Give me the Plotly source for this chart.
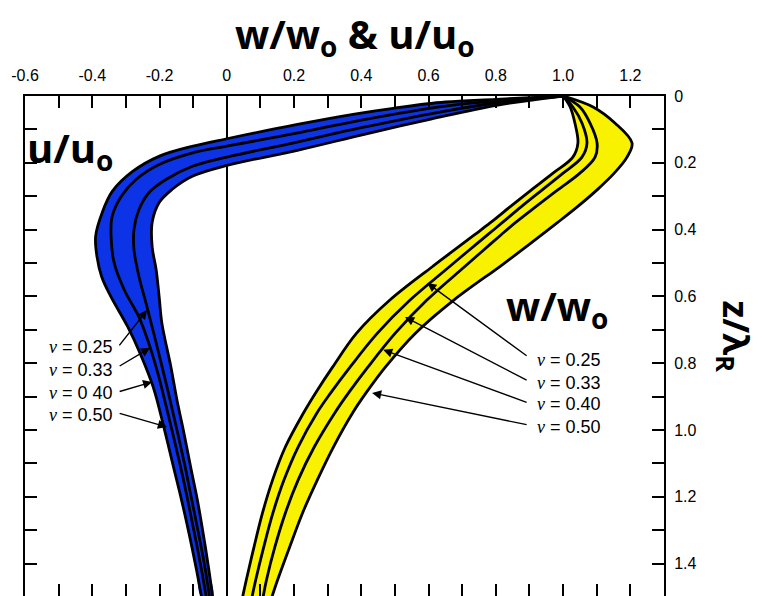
import numpy as np
import plotly.graph_objects as go

# ---------------- data ----------------
# vertical component w/wo : common depth grid z/lambda_R
w_z = [0, 0.033, 0.081, 0.141, 0.183, 0.231, 0.281, 0.332, 0.380, 0.416, 0.467, 0.512,
       0.611, 0.710, 0.811, 0.889, 0.949, 1.051, 1.150, 1.249, 1.350, 1.449, 1.5]
w_nu025 = [1.0, 1.021, 1.035, 1.044, 1.029, 0.970, 0.906, 0.842, 0.783, 0.736, 0.669, 0.610,
           0.485, 0.386, 0.315, 0.264, 0.228, 0.174, 0.136, 0.106, 0.081, 0.058, 0.047]
w_nu033 = [1.0, 1.029, 1.056, 1.071, 1.056, 1.000, 0.938, 0.875, 0.818, 0.775, 0.714, 0.661,
           0.545, 0.448, 0.367, 0.309, 0.268, 0.212, 0.170, 0.137, 0.110, 0.086, 0.075]
w_nu040 = [1.0, 1.050, 1.080, 1.101, 1.095, 1.050, 0.984, 0.918, 0.857, 0.815, 0.757, 0.706,
           0.595, 0.501, 0.420, 0.362, 0.321, 0.260, 0.212, 0.174, 0.143, 0.118, 0.108]
w_nu050 = [1.0, 1.089, 1.154, 1.205, 1.190, 1.152, 1.101, 1.042, 0.982, 0.936, 0.870, 0.810,
           0.675, 0.561, 0.472, 0.414, 0.374, 0.317, 0.269, 0.225, 0.187, 0.151, 0.134]

# horizontal component u/uo : each curve as (x, z) pairs
u_nu050_x = [1.0, 0.80, 0.65, 0.50, 0.38, 0.21, 0.0, -0.10, -0.20, -0.28, -0.34, -0.37, -0.39,
             -0.386, -0.372, -0.345, -0.295, -0.258, -0.219, -0.187, -0.158, -0.134, -0.112, -0.091, -0.075]
u_nu050_z = [0.0, 0.010, 0.018, 0.036, 0.054, 0.085, 0.128, 0.150, 0.180, 0.226, 0.285, 0.348, 0.420,
             0.481, 0.541, 0.600, 0.690, 0.770, 0.871, 0.992, 1.113, 1.212, 1.311, 1.414, 1.5]
u_nu040_x = [1.0, 0.80, 0.65, 0.40, 0.20, 0.0, -0.104, -0.201, -0.270, -0.314, -0.341, -0.344,
             -0.335, -0.305, -0.261, -0.232, -0.205, -0.180, -0.156, -0.133, -0.112, -0.092, -0.073, -0.061]
u_nu040_z = [0.0, 0.015, 0.030, 0.072, 0.113, 0.150, 0.171, 0.205, 0.250, 0.301, 0.361, 0.421,
             0.499, 0.580, 0.662, 0.740, 0.830, 0.930, 1.030, 1.130, 1.230, 1.330, 1.430, 1.5]
u_nu033_x = [1.0, 0.80, 0.65, 0.40, 0.20, 0.0, -0.104, -0.181, -0.231, -0.261, -0.276, -0.276,
             -0.261, -0.237, -0.195, -0.171, -0.148, -0.126, -0.106, -0.086, -0.067, -0.051]
u_nu033_z = [0.0, 0.021, 0.045, 0.095, 0.140, 0.183, 0.211, 0.250, 0.289, 0.340, 0.400, 0.460,
             0.541, 0.632, 0.80, 0.90, 1.0, 1.1, 1.2, 1.3, 1.4, 1.5]
u_nu025_x = [1.0, 0.806, 0.607, 0.412, 0.213, 0.0, -0.104, -0.163, -0.201, -0.222, -0.222, -0.210,
             -0.201, -0.193, -0.166, -0.148, -0.127, -0.107, -0.087, -0.070, -0.054, -0.042]
u_nu025_z = [0.0, 0.027, 0.069, 0.114, 0.162, 0.208, 0.241, 0.280, 0.319, 0.379, 0.451, 0.520,
             0.602, 0.680, 0.812, 0.911, 1.011, 1.113, 1.212, 1.311, 1.414, 1.5]

# labels and arrow targets
nu_labels_u = ["ν = 0.25", "ν = 0.33", "ν = 0 40", "ν = 0.50"]
nu_labels_w = ["ν = 0.25", "ν = 0.33", "ν = 0.40", "ν = 0.50"]
u_tip_x = [-0.237, -0.228, -0.222, -0.178]
u_tip_z = [0.641, 0.754, 0.856, 0.991]
w_tip_x = [0.596, 0.530, 0.465, 0.432]
w_tip_z = [0.560, 0.662, 0.760, 0.889]

x_tickvals = [-0.6, -0.5, -0.4, -0.3, -0.2, -0.1, 0, 0.1, 0.2, 0.3, 0.4, 0.5, 0.6, 0.7, 0.8, 0.9, 1.0, 1.1, 1.2, 1.3]
x_ticktext = ["-0.6", "", "-0.4", "", "-0.2", "", "0", "", "0.2", "", "0.4", "", "0.6", "", "0.8", "", "1.0", "", "1.2", ""]
y_tickvals = [0, 0.1, 0.2, 0.3, 0.4, 0.5, 0.6, 0.7, 0.8, 0.9, 1.0, 1.1, 1.2, 1.3, 1.4]
y_ticktext = ["0", "", "0.2", "", "0.4", "", "0.6", "", "0.8", "", "1.0", "", "1.2", "", "1.4"]

# ---------------- figure ----------------
YELLOW = "#f8f200"
BLUE = "#0d33e6"
XR = [-0.6, 1.3]
YR = [1.497, 0]
LW = 2.8

fig = go.Figure()

# yellow band (between nu=0.25 and nu=0.50)
fig.add_trace(go.Scatter(
    x=list(w_nu025) + list(w_nu050[::-1]), y=list(w_z) + list(w_z[::-1]),
    mode="lines", fill="toself", fillcolor=YELLOW, line=dict(width=0, shape="spline"),
    hoverinfo="skip", showlegend=False))
# blue band
fig.add_trace(go.Scatter(
    x=list(u_nu050_x) + list(u_nu025_x[::-1]), y=list(u_nu050_z) + list(u_nu025_z[::-1]),
    mode="lines", fill="toself", fillcolor=BLUE, line=dict(width=0, shape="spline"),
    hoverinfo="skip", showlegend=False))

for name, xs in [("0.25", w_nu025), ("0.33", w_nu033), ("0.40", w_nu040), ("0.50", w_nu050)]:
    fig.add_trace(go.Scatter(x=xs, y=w_z, mode="lines", name="w/wo ν=" + name,
                             line=dict(color="black", width=LW, shape="spline"), showlegend=False))
for name, xs, zs in [("0.25", u_nu025_x, u_nu025_z), ("0.33", u_nu033_x, u_nu033_z),
                     ("0.40", u_nu040_x, u_nu040_z), ("0.50", u_nu050_x, u_nu050_z)]:
    fig.add_trace(go.Scatter(x=xs, y=zs, mode="lines", name="u/uo ν=" + name,
                             line=dict(color="black", width=LW, shape="spline"), showlegend=False))

# invisible trace to create the mirrored axes (left / bottom ticks)
fig.add_trace(go.Scatter(x=[None], y=[None], xaxis="x2", yaxis="y2", showlegend=False, hoverinfo="skip"))

tickfont = dict(family="Liberation Sans, Arial, sans-serif", size=16, color="black")
fig.update_layout(
    width=762, height=596, autosize=False,
    margin=dict(l=25, r=98, t=96, b=0),
    paper_bgcolor="white", plot_bgcolor="white", showlegend=False,
    xaxis=dict(range=XR, side="top", showline=True, linecolor="black", linewidth=2,
               ticks="inside", ticklen=12, tickwidth=1.5, tickcolor="black",
               tickvals=x_tickvals, ticktext=x_ticktext, tickfont=tickfont, ticklabelstandoff=7,
               showgrid=False, zeroline=True, zerolinecolor="black", zerolinewidth=1.5,
               automargin=False),
    yaxis=dict(range=YR, side="right", showline=True, linecolor="black", linewidth=2,
               ticks="inside", ticklen=12, tickwidth=1.5, tickcolor="black",
               tickvals=y_tickvals, ticktext=y_ticktext, tickfont=tickfont, ticklabelstandoff=5,
               showgrid=False, zeroline=False, automargin=False),
    xaxis2=dict(range=XR, overlaying="x", side="bottom", showline=False,
                ticks="inside", ticklen=12, tickwidth=1.5, tickcolor="black",
                tickvals=x_tickvals, showticklabels=False, showgrid=False, zeroline=False,
                automargin=False),
    yaxis2=dict(range=YR, overlaying="y", side="left", showline=True, linecolor="black", linewidth=2,
                ticks="inside", ticklen=12, tickwidth=1.5, tickcolor="black",
                tickvals=y_tickvals, showticklabels=False, showgrid=False, zeroline=False,
                automargin=False),
)

nu_font = dict(family="Liberation Sans, Arial, sans-serif", size=18, color="black")
def nu_text(s):
    return '<span style="font-family:Liberation Serif"><i>ν</i></span>' + s[1:]

# left (u) labels and arrows
u_text_z = [0.751, 0.820, 0.889, 0.955]
u_tail_z = [0.751, 0.811, 0.886, 0.949]
for lab, tx, tz, tlz, txz in zip(nu_labels_u, u_tip_x, u_tip_z, u_tail_z, u_text_z):
    fig.add_annotation(x=-0.332, y=txz, xref="x", yref="y", text=nu_text(lab), showarrow=False,
                       xanchor="right", yanchor="middle", font=nu_font)
    fig.add_annotation(x=tx, y=tz, ax=-0.323, ay=tlz, xref="x", yref="y", axref="x", ayref="y",
                       text="", showarrow=True, arrowhead=2, arrowsize=1.3, arrowwidth=1.4,
                       arrowcolor="black", standoff=0)

# right (w) labels and arrows
w_text_z = [0.790, 0.859, 0.922, 0.991]
w_tail_z = [0.781, 0.853, 0.919, 0.985]
for lab, tx, tz, tlz, txz in zip(nu_labels_w, w_tip_x, w_tip_z, w_tail_z, w_text_z):
    fig.add_annotation(x=0.916, y=txz, xref="x", yref="y", text=nu_text(lab), showarrow=False,
                       xanchor="left", yanchor="middle", font=nu_font)
    fig.add_annotation(x=tx, y=tz, ax=0.896, ay=tlz, xref="x", yref="y", axref="x", ayref="y",
                       text="", showarrow=True, arrowhead=2, arrowsize=1.3, arrowwidth=1.4,
                       arrowcolor="black", standoff=0)

big_font = dict(family="Open Sans, Noto Sans, sans-serif", size=40, color="black")
fig.add_annotation(x=0.516, y=1.12, xref="paper", yref="paper", showarrow=False,
                   text="<b>w/w<sub>o</sub> &amp; u/u<sub>o</sub></b>", font=big_font,
                   xanchor="center", yanchor="middle")
fig.add_annotation(x=0.070, y=0.894, xref="paper", yref="paper", showarrow=False,
                   text="<b>u/u<sub>o</sub></b>", font=big_font, xanchor="center", yanchor="middle")
fig.add_annotation(x=0.833, y=0.578, xref="paper", yref="paper", showarrow=False,
                   text="<b>w/w<sub>o</sub></b>", font=big_font, xanchor="center", yanchor="middle")
fig.add_annotation(x=1.111, y=0.519, xref="paper", yref="paper", showarrow=False,
                   text="<b>z/λ<sub>R</sub></b>", font=dict(family="Open Sans, Noto Sans, sans-serif",
                                                          size=36, color="black"),
                   textangle=90, xanchor="center", yanchor="middle")

fig.write_html("out.html", config={"displayModeBar": False},
               post_script="document.body.style.margin='0px';")
